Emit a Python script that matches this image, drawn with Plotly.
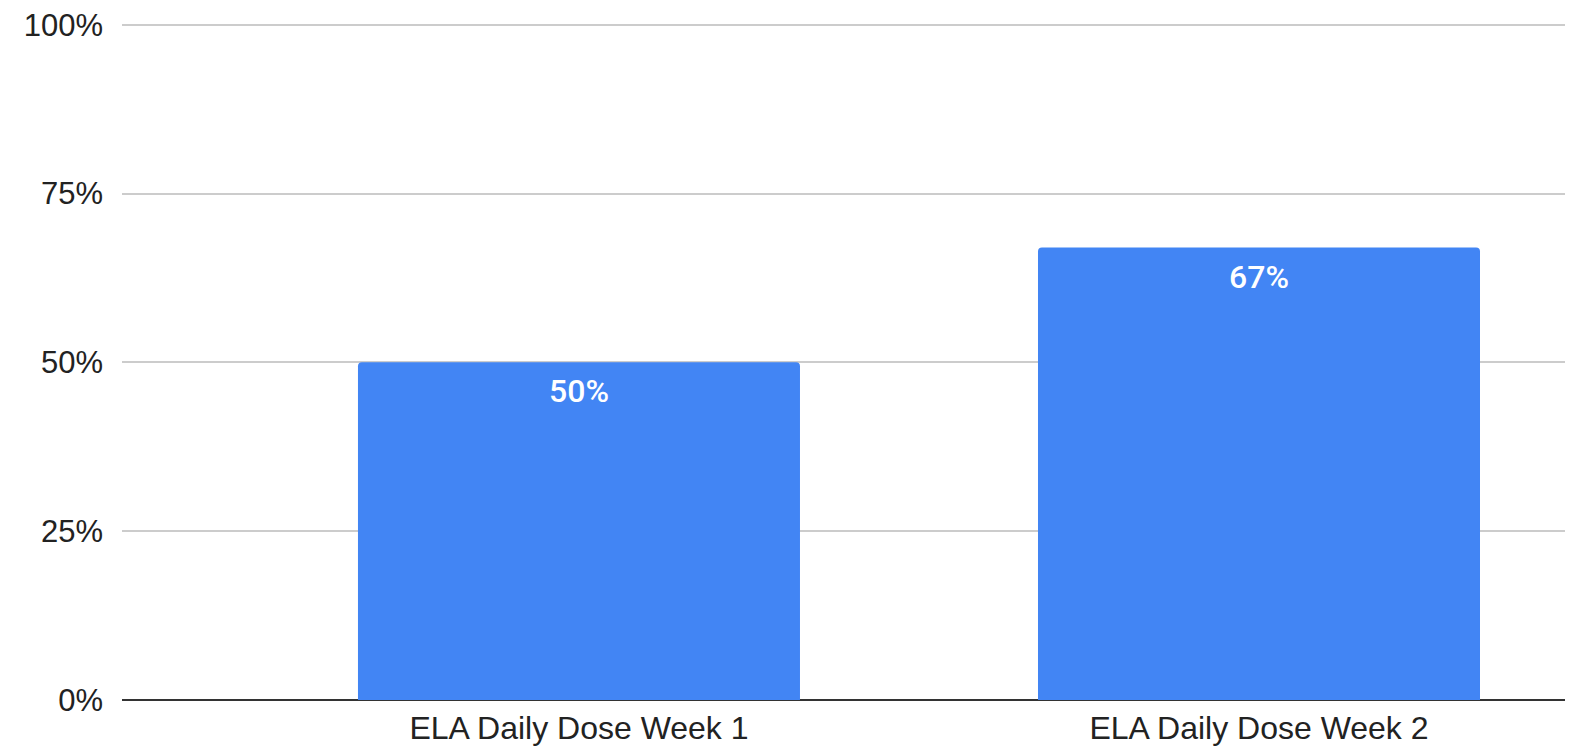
import plotly.graph_objects as go

categories = ["ELA Daily Dose Week 1", "ELA Daily Dose Week 2"]
values = [50, 67]
y_ticks = [0, 25, 50, 75, 100]
y_tick_labels = ["0%", "25%", "50%", "75%", "100%"]

fig = go.Figure()
fig.add_trace(go.Bar(
    x=categories, y=values,
    marker=dict(color="#4285F4", line=dict(width=0)),
    width=0.65,
    hoverinfo="skip",
))

for c, v in zip(categories, values):
    fig.add_annotation(
        x=c, y=v, text=f"{v}%", showarrow=False,
        yanchor="top", yshift=-8,
        font=dict(family="Roboto, Liberation Sans, Arial, sans-serif", size=32,
                  color="white", weight=500),
    )

fig.update_layout(
    width=1557, height=742,
    margin=dict(l=114, r=0, t=15, b=50, autoexpand=False),
    paper_bgcolor="white", plot_bgcolor="white",
    showlegend=False,
    barcornerradius=4,
    font=dict(family="Liberation Sans, Arial, sans-serif", color="#222222"),
)
fig.update_xaxes(
    range=[-0.672, 1.45],
    showgrid=False, showline=False, ticks="",
    tickfont=dict(size=32, color="#222222"),
    ticklabelstandoff=6,
    automargin=False,
)
fig.update_yaxes(
    range=[0, 100.25],
    tickvals=y_ticks, ticktext=y_tick_labels,
    showgrid=True, gridcolor="#cccccc", gridwidth=1.5,
    zeroline=True, zerolinecolor="#333333", zerolinewidth=2,
    showline=False, ticks="",
    tickfont=dict(size=31, color="#222222"),
    ticklabelstandoff=18,
    ticklabeloverflow="allow",
    automargin=False,
)

fig.write_html("out.html")
